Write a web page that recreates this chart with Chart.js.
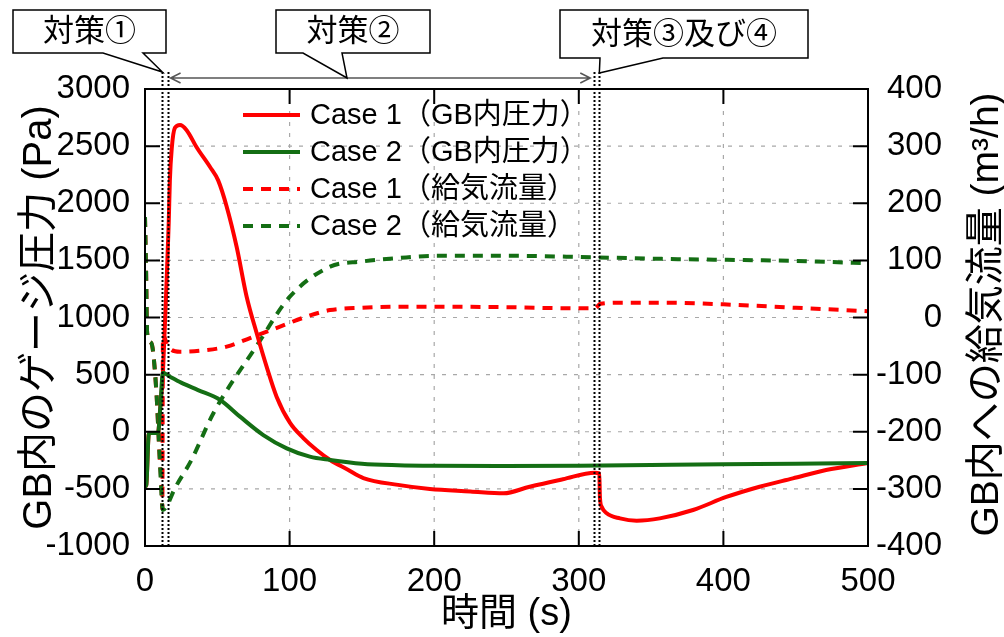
<!DOCTYPE html>
<html>
<head>
<meta charset="utf-8">
<script src="https://cdn.jsdelivr.net/npm/chart.js@4.4.1/dist/chart.umd.min.js"></script>
<style>
  html, body { margin: 0; padding: 0; background: #fff; }
</style>
</head>
<body>
<canvas id="chart" width="1004" height="637"></canvas>
<script>
// ---- data (time in s, pressure in Pa, flow in m3/h) ----
const seriesLabels = [
    'Case 1（GB内圧力）',
    'Case 2（GB内圧力）',
    'Case 1（給気流量）',
    'Case 2（給気流量）'
];

const timeP1 = [0, 0.9, 2.5, 3.2, 9, 10.5, 12.4, 14.7, 16.4, 17.2, 18.5, 20.7, 24.2, 28.8, 35.7, 45, 50.6,
    56.5, 63.4, 70.3, 77.2, 84.1, 91, 100.3, 109.5, 118.7, 128, 140, 151, 175, 197, 225, 248,
    266, 289, 311, 314.2, 314.6, 315.8, 319.3, 328.5, 340, 356, 379, 402, 425, 448, 471, 500];
const pressure1 = [-480, -466, -30, -11, -11, 200, 517, 1240, 1827, 2200, 2480, 2660, 2685, 2640, 2490, 2317, 2200,
    1970, 1617, 1182, 864, 570, 307, 77, -55, -160, -247, -330, -405, -465, -501, -522, -539,
    -481, -416, -358, -364, -569, -656, -714, -758, -778, -758, -685, -571, -481, -408, -335, -273];

const timeP2 = [0, 0.9, 2.5, 3.2, 9, 10.5, 12.4, 17.3, 25, 36.7, 52, 65.7, 81.8, 98, 114, 128,
    150, 175, 200, 250, 300, 350, 400, 450, 500];
const pressure2 = [-480, -466, -30, -11, -11, 200, 517, 482, 430, 365, 278, 132, -29, -145, -218, -247,
    -280, -293, -298, -300, -297, -291, -285, -280, -274];

const timeF1 = [0, 0.7, 1.5, 4.4, 7.8, 10.1, 11.5, 12, 12.4, 15.9, 24.2, 42.6, 56.5, 72.6, 93.4,
    110, 128, 150, 175, 200, 250, 300, 311, 315, 330, 360, 400, 450, 500];
const flow1 = [176, 89, -27, -45, -127, -243, -300, -335, -30, -51, -60, -57, -51, -36, -16,
    0, 13, 17, 19, 19, 18, 16, 16, 24, 26, 26, 23, 17, 11];

const timeF2 = [0, 0.7, 1.5, 4.4, 7.8, 10.1, 12.4, 15, 20.5, 32, 47.2, 78.4, 100, 128,
    150, 175, 200, 250, 300, 350, 400, 450, 500];
const flow2 = [176, 89, -27, -45, -127, -243, -337, -330, -300, -250, -168, -45, 36, 89,
    98, 104, 108, 108, 106, 103, 101, 99, 95];

// measure timings (s) marked with dotted lines
const measureTimes = [12, 15.6, 310.7, 314.2];

const FONT = '"Liberation Sans", "Noto Sans CJK JP", Arial, sans-serif';
const NARROW = '"Liberation Sans Narrow", "Arial Narrow", "Liberation Sans", sans-serif';
const RED = 'rgb(255,0,0)';
const GREEN = 'rgb(20,110,20)';

const toPoints = (xs, ys) => xs.map((x, i) => ({ x, y: ys[i] }));


const decor = {
    id: 'decor',

    beforeDatasetsDraw(chart) {
        const { ctx, chartArea: a, scales } = chart;
        ctx.save();
        ctx.strokeStyle = '#a8a8a8';
        ctx.lineWidth = 1.2;
        ctx.setLineDash([4, 7]);
        scales.x.ticks.forEach(t => {
            const px = scales.x.getPixelForValue(t.value);
            if (px <= a.left + 1 || px >= a.right - 1) return;
            ctx.beginPath();
            ctx.moveTo(px, a.top);
            ctx.lineTo(px, a.bottom);
            ctx.stroke();
        });
        scales.y.ticks.forEach(t => {
            const py = scales.y.getPixelForValue(t.value);
            if (py <= a.top + 1 || py >= a.bottom - 1) return;
            ctx.beginPath();
            ctx.moveTo(a.left, py);
            ctx.lineTo(a.right, py);
            ctx.stroke();
        });
        ctx.restore();
    },

    afterDatasetsDraw(chart) {
        const { ctx, chartArea: a, scales } = chart;
        const xs = scales.x;

        // frame and inner tick marks
        ctx.save();
        ctx.strokeStyle = '#000';
        ctx.lineWidth = 2;
        ctx.strokeRect(a.left, a.top, a.right - a.left, a.bottom - a.top);
        const tl = 15;
        ctx.beginPath();
        xs.ticks.forEach(t => {
            const px = xs.getPixelForValue(t.value);
            ctx.moveTo(px, a.bottom); ctx.lineTo(px, a.bottom - tl);
            ctx.moveTo(px, a.top); ctx.lineTo(px, a.top + tl);
        });
        scales.y.ticks.forEach(t => {
            const py = scales.y.getPixelForValue(t.value);
            ctx.moveTo(a.left, py); ctx.lineTo(a.left + tl, py);
        });
        scales.y1.ticks.forEach(t => {
            const py = scales.y1.getPixelForValue(t.value);
            ctx.moveTo(a.right, py); ctx.lineTo(a.right - tl, py);
        });
        ctx.stroke();

        // dotted measure lines
        ctx.setLineDash([2, 2]);
        ctx.lineWidth = 2;
        measureTimes.forEach(t => {
            const px = Math.round(xs.getPixelForValue(t)) + 0.5;
            ctx.beginPath();
            ctx.moveTo(px, 72);
            ctx.lineTo(px, a.bottom);
            ctx.stroke();
        });
        ctx.setLineDash([]);

        // double arrow for measure 2
        const ax1 = xs.getPixelForValue(measureTimes[1]) + 3;
        const ax2 = xs.getPixelForValue(measureTimes[2]) - 4;
        const ay = 78;
        ctx.strokeStyle = '#555';
        ctx.lineWidth = 1.5;
        ctx.beginPath();
        ctx.moveTo(ax1, ay); ctx.lineTo(ax2, ay);
        ctx.moveTo(ax1 + 10, ay - 5); ctx.lineTo(ax1, ay); ctx.lineTo(ax1 + 10, ay + 5);
        ctx.moveTo(ax2 - 10, ay - 5); ctx.lineTo(ax2, ay); ctx.lineTo(ax2 - 10, ay + 5);
        ctx.stroke();

        // callouts
        const callout = (text, x1, x2, y1, y2, b1, b2, tipX, tipY) => {
            ctx.beginPath();
            ctx.moveTo(x1, y1);
            ctx.lineTo(x2, y1);
            ctx.lineTo(x2, y2);
            ctx.lineTo(b2, y2);
            ctx.lineTo(tipX, tipY);
            ctx.lineTo(b1, y2);
            ctx.lineTo(x1, y2);
            ctx.closePath();
            ctx.fillStyle = '#fff';
            ctx.fill();
            ctx.strokeStyle = '#000';
            ctx.lineWidth = 1.5;
            ctx.stroke();
            ctx.fillStyle = '#000';
            ctx.font = '31px ' + FONT;
            ctx.textAlign = 'center';
            ctx.textBaseline = 'middle';
            ctx.fillText(text, (x1 + x2) / 2, (y1 + y2) / 2 + 1);
        };
        callout('対策①', 13, 166, 10, 53, 103, 143, xs.getPixelForValue(measureTimes[0]), 72);
        callout('対策②', 276, 430, 10, 53, 303, 342, 347, ay);
        callout('対策③及び④', 560, 808, 10, 58, 600, 663, xs.getPixelForValue(measureTimes[3]), 73);

        // legend inside the plot
        ctx.font = '29px ' + FONT;
        ctx.textAlign = 'left';
        ctx.textBaseline = 'middle';
        chart.data.datasets.forEach((ds, i) => {
            const y = 115 + i * 37;
            ctx.strokeStyle = ds.borderColor;
            ctx.lineWidth = ds.borderWidth;
            ctx.setLineDash(ds.borderDash || []);
            ctx.beginPath();
            ctx.moveTo(243, y);
            ctx.lineTo(300, y);
            ctx.stroke();
            ctx.setLineDash([]);
            ctx.fillStyle = '#000';
            ctx.fillText(ds.label, 310, y + 1);
        });
        ctx.restore();
    },

    afterDraw(chart) {
        const { ctx, chartArea: a } = chart;
        const midY = (a.top + a.bottom) / 2;
        ctx.save();
        ctx.fillStyle = '#000';
        ctx.textAlign = 'center';
        ctx.textBaseline = 'middle';

        ctx.font = '38px ' + FONT;
        ctx.fillText('時間 (s)', (a.left + a.right) / 2, 615);

        ctx.font = '40px ' + FONT;
        ctx.save();
        ctx.translate(40, midY);
        ctx.rotate(-Math.PI / 2);
        ctx.fillText('GB内のゲージ圧力 (Pa)', 0, 0);
        ctx.restore();

        ctx.font = '39px ' + FONT;
        ctx.save();
        ctx.translate(987, midY - 3);
        ctx.rotate(-Math.PI / 2);
        ctx.fillText('GB内への給気流量 (m³/h)', 0, 0);
        ctx.restore();
        ctx.restore();
    }
};


const tickFont = { family: NARROW, size: 33 };

new Chart(document.getElementById('chart'), {

    type: 'line',

    data: {
        datasets: [
            {
                label: seriesLabels[0],
                data: toPoints(timeP1, pressure1),
                yAxisID: 'y',
                borderColor: RED,
                borderWidth: 4,
                order: 2
            },
            {
                label: seriesLabels[1],
                data: toPoints(timeP2, pressure2),
                yAxisID: 'y',
                borderColor: GREEN,
                borderWidth: 4,
                order: 1
            },
            {
                label: seriesLabels[2],
                data: toPoints(timeF1, flow1),
                yAxisID: 'y1',
                borderColor: RED,
                borderWidth: 4,
                borderDash: [10, 8],
                order: 4
            },
            {
                label: seriesLabels[3],
                data: toPoints(timeF2, flow2),
                yAxisID: 'y1',
                borderColor: GREEN,
                borderWidth: 4,
                borderDash: [10, 8],
                order: 3
            }
        ]
    },

    options: {
        responsive: false,
        animation: false,
        devicePixelRatio: 1,

        elements: {
            point: { radius: 0 },
            line: { cubicInterpolationMode: 'monotone', fill: false }
        },

        layout: {
            padding: { top: 89, right: 62, left: 0, bottom: 0 }
        },

        plugins: {
            legend: { display: false },
            tooltip: { enabled: false }
        },

        scales: {
            x: {
                type: 'linear',
                min: 0,
                max: 500,
                grid: { display: false, drawTicks: false },
                border: { display: false },
                ticks: {
                    stepSize: 100,
                    color: '#000',
                    font: tickFont,
                    padding: 16,
                    maxRotation: 0,
                    callback: v => String(v)
                },
                afterFit: s => { s.height = 91; }
            },

            y: {
                position: 'left',
                min: -1000,
                max: 3000,
                grid: { display: false, drawTicks: false },
                border: { display: false },
                ticks: {
                    stepSize: 500,
                    color: '#000',
                    font: tickFont,
                    padding: 15,
                    callback: v => String(v)
                },
                afterFit: s => { s.width = 145; }
            },

            y1: {
                position: 'right',
                min: -400,
                max: 400,
                grid: { display: false, drawTicks: false },
                border: { display: false },
                ticks: {
                    stepSize: 100,
                    color: '#000',
                    font: tickFont,
                    padding: 14,
                    crossAlign: 'far',
                    callback: v => String(v)
                },
                afterFit: s => { s.width = 74; }
            }
        }
    },

    plugins: [decor]
});
</script>
</body>
</html>
